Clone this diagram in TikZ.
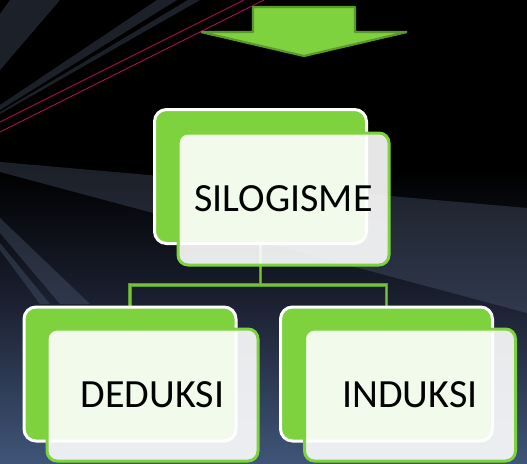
\documentclass[tikz,border=0pt]{standalone}
\usepackage{fontspec}
\setmainfont{Carlito}
\usetikzlibrary{calc}
\definecolor{gfill}{HTML}{7ED23E}
\definecolor{gdark}{HTML}{5A9A2A}
\definecolor{gline}{HTML}{76C23A}
\definecolor{bgmid}{HTML}{1B2030}
\definecolor{bgbot}{HTML}{3F5578}
\definecolor{streakc}{HTML}{5C6C88}
\definecolor{redline}{HTML}{9A1048}
\pgfdeclarelayer{bglayer}
\pgfdeclarelayer{connlayer}
\pgfsetlayers{bglayer,connlayer,main}
\begin{document}
\begin{tikzpicture}[x=1pt,y=-1pt,
  backbox/.style={draw=white, line width=3pt, fill=gfill, rounded corners=12pt,
    minimum width=212pt, minimum height=134pt, inner sep=0pt},
  frontbox/.style={draw=gfill, line width=3pt, fill=white, fill opacity=0.9,
    text opacity=1, text=black, rounded corners=10pt, minimum width=211pt,
    minimum height=132pt, inner sep=0pt, font=\fontsize{40}{45}\selectfont},
  streak/.style={fill=streakc, fill opacity=0.3, draw=none},
  conn/.style={draw=gdark, double=gline, double distance=1.6pt, line width=0.9pt},
  arrowshape/.style={fill=gfill, draw=gdark, line width=2.2pt, line join=bevel}]
\useasboundingbox (0,0) rectangle (527,463);
\begin{pgfonlayer}{bglayer}
  \fill[black] (0,0) rectangle (527,170);
  \shade[top color=black, bottom color=bgmid] (0,169.5) rectangle (527,300.5);
  \shade[top color=bgmid, bottom color=bgbot] (0,300) rectangle (527,463);
  % light bands
  \fill[streak] (0,162) -- (527,208) -- (527,313) -- (0,172) -- cycle;
  \fill[streak] (10,0) -- (60,0) -- (0,70) -- (0,14) -- cycle;
  \fill[streak] (157,0) -- (177,0) -- (0,110) -- (0,105) -- cycle;
  \fill[streak] (188,0) -- (200,0) -- (0,114) -- (0,112) -- cycle;
  \fill[streak] (0,218) -- (90,304) -- (60,304) -- (0,233) -- cycle;
  \fill[streak] (0,243) -- (50,304) -- (40,304) -- (0,250) -- cycle;
  \draw[redline, line width=1pt] (0,122) -- (244,0);
  \draw[redline, line width=1pt] (0,132) -- (264,0);
\end{pgfonlayer}
% arrow
\draw[arrowshape] (253,7) -- (355,7) -- (355,32) -- (407,32) -- (304,56)
  -- (201,32) -- (253,32) -- cycle;
% back boxes
\node[backbox] (sb) at (260.5,176.5) {};
\node[backbox] (db) at (130,374) {};
\node[backbox] (ib) at (386.5,374) {};
% connectors
\coordinate (bus) at (0,285);
\begin{pgfonlayer}{connlayer}
  \draw[conn] (sb.south) -- (sb.south |- bus) -| (db.north);
  \draw[conn] (sb.south |- bus) -| (ib.north);
\end{pgfonlayer}
% front boxes
\node[frontbox] (sf) at (283.5,199) {SILOGISME};
\node[frontbox] (df) at (152.5,395) {DEDUKSI};
\node[frontbox] (if) at (410,395) {INDUKSI};
\end{tikzpicture}
\end{document}
